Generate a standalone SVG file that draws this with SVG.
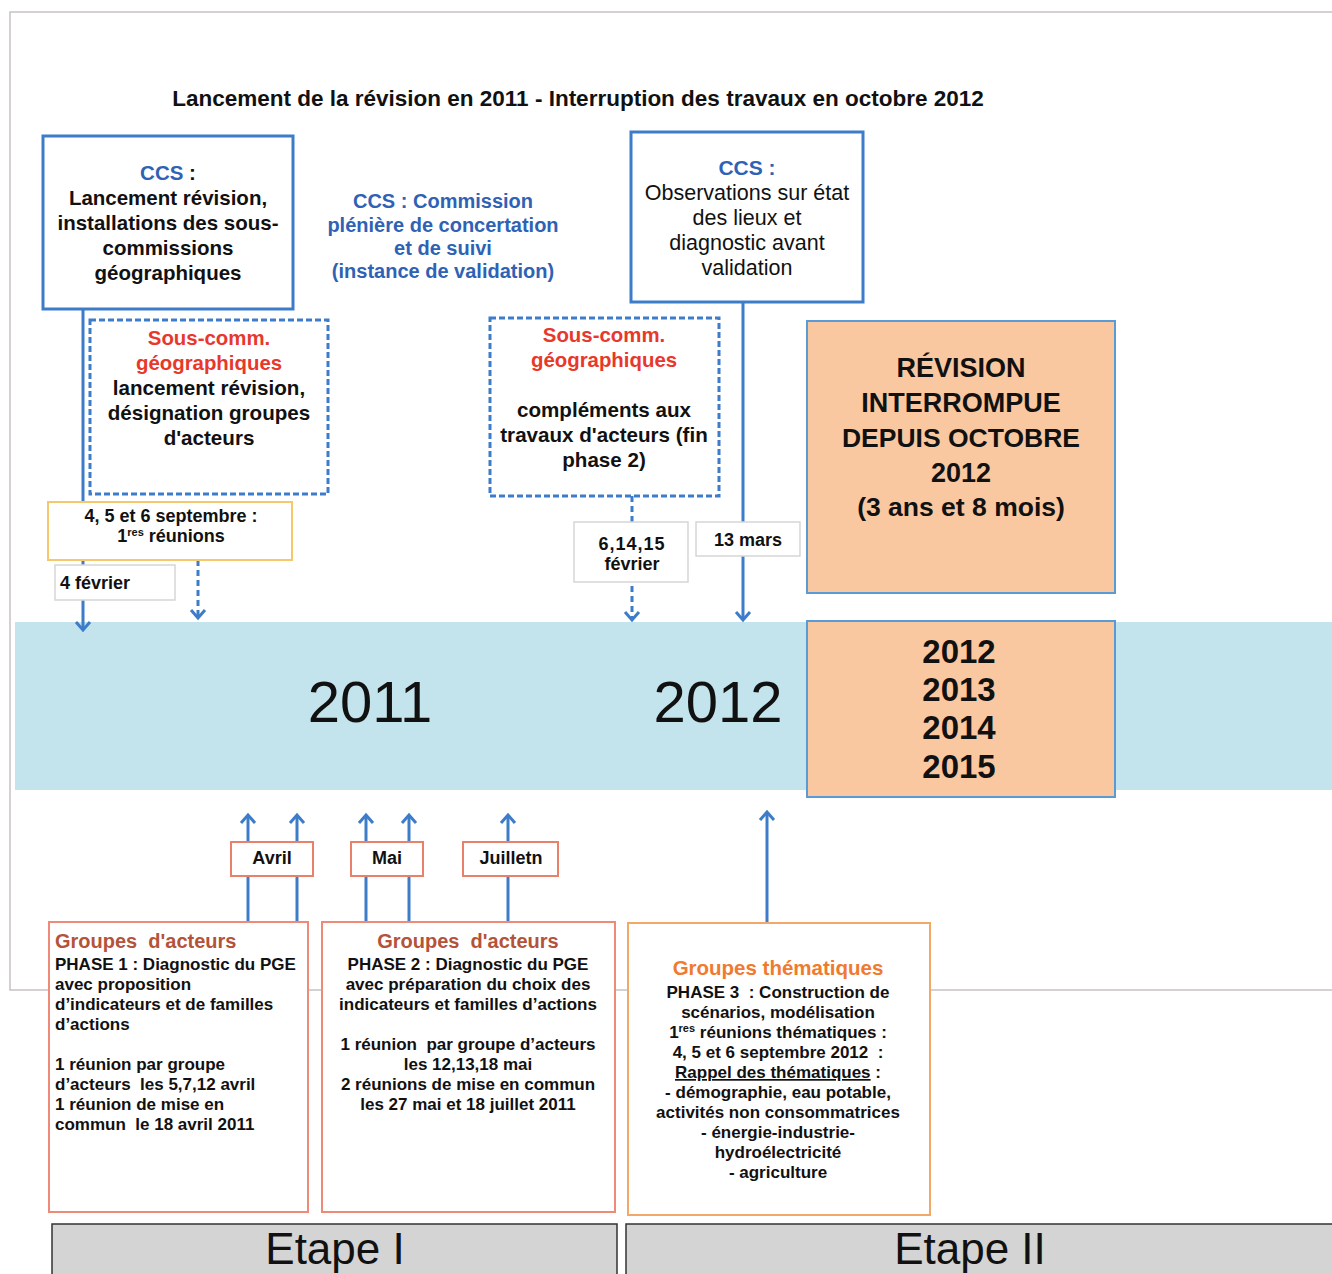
<svg xmlns="http://www.w3.org/2000/svg" width="1332" height="1274" viewBox="0 0 1332 1274">
<style>
  text { font-family: "Liberation Sans", Arial, sans-serif; fill: #111; white-space: pre; }
  .b { font-weight: bold; }
  .c { text-anchor: middle; }
  .blue { fill: #2f62b4; }
  .red { fill: #e8382c; }
  .brown { fill: #b4533a; }
  .orng { fill: #f07a2e; }
  .ccsbox { fill: #fff; stroke: #3d7cc9; stroke-width: 3; }
  .dash { fill: #fff; stroke: #3d7cc9; stroke-width: 3; stroke-dasharray: 6 3; }
  .datebox { fill: #fff; stroke: #d6d6d6; stroke-width: 1.5; }
  .month { fill: #fff; stroke: #e8806a; stroke-width: 2; }
  .grp { fill: #fff; stroke: #f08a78; stroke-width: 2; }
  .peach { fill: #f9c8a0; stroke: #5b9bd5; stroke-width: 2; }
  .line { fill: none; stroke: #3d7cc9; stroke-width: 3; }
  .dline { fill: none; stroke: #3d7cc9; stroke-width: 3; stroke-dasharray: 6 4; }
  .etape { fill: #d4d4d4; stroke: #333; stroke-width: 1.5; }
</style>
<defs>
  <marker id="chev" markerUnits="userSpaceOnUse" markerWidth="20" markerHeight="20" viewBox="-10 -10 20 20" refX="0" refY="0" orient="auto">
    <path d="M-8,-7 L0,0 L-8,7" fill="none" stroke="#3d7cc9" stroke-width="3"/>
  </marker>
</defs>
<rect width="1332" height="1274" fill="#fff"/>
<g id="frame" fill="none" stroke="#c8c2c2" stroke-width="1.5">
  <path d="M1332,12 L10,12 L10,990 L1332,990"/>
</g>
<text id="title" class="b c" x="578" y="106" font-size="22.5">Lancement de la révision en 2011 - Interruption des travaux en octobre 2012</text>

<g id="band">
  <rect x="15" y="622" width="1317" height="168" fill="#c3e4ec"/>
  <text class="c" x="370" y="722" font-size="58">2011</text>
  <text class="c" x="718" y="722" font-size="58">2012</text>
</g>

<g id="connectors">
  <path class="line" d="M83,309 L83,630" marker-end="url(#chev)"/>
  <path class="dline" d="M198,560 L198,618" marker-end="url(#chev)"/>
  <path class="dline" d="M632,496 L632,620" marker-end="url(#chev)"/>
  <path class="line" d="M743,302 L743,620" marker-end="url(#chev)"/>
  <path class="line" d="M248,922 L248,815" marker-end="url(#chev)"/>
  <path class="line" d="M297,922 L297,815" marker-end="url(#chev)"/>
  <path class="line" d="M366,922 L366,815" marker-end="url(#chev)"/>
  <path class="line" d="M409,922 L409,815" marker-end="url(#chev)"/>
  <path class="line" d="M508,922 L508,815" marker-end="url(#chev)"/>
  <path class="line" d="M767,923 L767,812" marker-end="url(#chev)"/>
</g>

<g id="ccs1">
  <rect class="ccsbox" x="43" y="136" width="250" height="173"/>
  <text class="b c" x="168" y="180" font-size="20.5"><tspan class="blue">CCS</tspan> :</text>
  <text class="b c" x="168" y="205" font-size="20.5">Lancement révision,</text>
  <text class="b c" x="168" y="230" font-size="20.5">installations des sous-</text>
  <text class="b c" x="168" y="255" font-size="20.5">commissions</text>
  <text class="b c" x="168" y="280" font-size="20.5">géographiques</text>
</g>

<g id="ccs-legend">
  <text class="b c blue" x="443" y="208" font-size="20">CCS : Commission</text>
  <text class="b c blue" x="443" y="232" font-size="20">plénière de concertation</text>
  <text class="b c blue" x="443" y="255" font-size="20">et de suivi</text>
  <text class="b c blue" x="443" y="278" font-size="20">(instance de validation)</text>
</g>

<g id="ccs2">
  <rect class="ccsbox" x="631" y="132" width="232" height="170"/>
  <text class="b c blue" x="747" y="175" font-size="21">CCS :</text>
  <text class="c" x="747" y="200" font-size="21.5">Observations sur état</text>
  <text class="c" x="747" y="225" font-size="21.5">des lieux et</text>
  <text class="c" x="747" y="250" font-size="21.5">diagnostic avant</text>
  <text class="c" x="747" y="275" font-size="21.5">validation</text>
</g>

<g id="souscomm1">
  <rect class="dash" x="90" y="320" width="238" height="174"/>
  <text class="b c red" x="209" y="345" font-size="20.4">Sous-comm.</text>
  <text class="b c red" x="209" y="370" font-size="20.4">géographiques</text>
  <text class="b c" x="209" y="395" font-size="20.6">lancement révision,</text>
  <text class="b c" x="209" y="420" font-size="20.6">désignation groupes</text>
  <text class="b c" x="209" y="445" font-size="20.6">d'acteurs</text>
</g>

<g id="souscomm2">
  <rect class="dash" x="490" y="318" width="229" height="178"/>
  <text class="b c red" x="604" y="342" font-size="20.4">Sous-comm.</text>
  <text class="b c red" x="604" y="367" font-size="20.4">géographiques</text>
  <text class="b c" x="604" y="417" font-size="20.6">compléments aux</text>
  <text class="b c" x="604" y="442" font-size="20.6">travaux d'acteurs (fin</text>
  <text class="b c" x="604" y="467" font-size="20.6">phase 2)</text>
</g>

<g id="septembre">
  <rect x="48" y="502" width="244" height="58" fill="#fff" stroke="#f5c96b" stroke-width="2"/>
  <text class="b c" x="171" y="522" font-size="18">4, 5 et 6 septembre :</text>
  <text class="b c" x="171" y="542" font-size="18">1<tspan font-size="11" dy="-6">res</tspan><tspan dy="6"> réunions</tspan></text>
</g>

<g id="fevrier4">
  <rect class="datebox" x="55" y="565" width="120" height="35"/>
  <text class="b" x="60" y="589" font-size="18">4 février</text>
</g>

<g id="fevrier6">
  <rect class="datebox" x="574" y="522" width="114" height="60"/>
  <text class="b c" x="632" y="550" font-size="18" letter-spacing="1">6,14,15</text>
  <text class="b c" x="632" y="570" font-size="18">février</text>
</g>

<g id="mars13">
  <rect class="datebox" x="696" y="522" width="104" height="34"/>
  <text class="b c" x="748" y="546" font-size="18">13 mars</text>
</g>

<g id="revision">
  <rect class="peach" x="807" y="321" width="308" height="272"/>
  <text class="b c" x="961" y="377" font-size="27">RÉVISION</text>
  <text class="b c" x="961" y="412" font-size="27">INTERROMPUE</text>
  <text class="b c" x="961" y="447" font-size="26.5">DEPUIS OCTOBRE</text>
  <text class="b c" x="961" y="482" font-size="27">2012</text>
  <text class="b c" x="961" y="516" font-size="26.5">(3 ans et 8 mois)</text>
</g>

<g id="years">
  <rect class="peach" x="807" y="621" width="308" height="176"/>
  <text class="b c" x="959" y="663" font-size="33">2012</text>
  <text class="b c" x="959" y="701" font-size="33">2013</text>
  <text class="b c" x="959" y="739" font-size="33">2014</text>
  <text class="b c" x="959" y="778" font-size="33">2015</text>
</g>

<g id="avril">
  <rect class="month" x="231" y="842" width="82" height="34"/>
  <text class="b c" x="272" y="864" font-size="18">Avril</text>
</g>
<g id="mai">
  <rect class="month" x="351" y="842" width="72" height="34"/>
  <text class="b c" x="387" y="864" font-size="18">Mai</text>
</g>
<g id="juillet">
  <rect class="month" x="463" y="842" width="95" height="34"/>
  <text class="b c" x="511" y="864" font-size="18">Juilletn</text>
</g>

<g id="phase1">
  <rect class="grp" x="49" y="922" width="259" height="290"/>
  <text class="b brown" x="55" y="948" font-size="20">Groupes  d'acteurs</text>
  <text class="b" x="55" y="970" font-size="17">PHASE 1 : Diagnostic du PGE</text>
  <text class="b" x="55" y="990" font-size="17">avec proposition</text>
  <text class="b" x="55" y="1010" font-size="17">d’indicateurs et de familles</text>
  <text class="b" x="55" y="1030" font-size="17">d’actions</text>
  <text class="b" x="55" y="1070" font-size="17">1 réunion par groupe</text>
  <text class="b" x="55" y="1090" font-size="17">d’acteurs  les 5,7,12 avril</text>
  <text class="b" x="55" y="1110" font-size="17">1 réunion de mise en</text>
  <text class="b" x="55" y="1130" font-size="17">commun  le 18 avril 2011</text>
</g>

<g id="phase2">
  <rect class="grp" x="322" y="922" width="293" height="290"/>
  <text class="b c brown" x="468" y="948" font-size="20">Groupes  d'acteurs</text>
  <text class="b c" x="468" y="970" font-size="17">PHASE 2 : Diagnostic du PGE</text>
  <text class="b c" x="468" y="990" font-size="17">avec préparation du choix des</text>
  <text class="b c" x="468" y="1010" font-size="17">indicateurs et familles d’actions</text>
  <text class="b c" x="468" y="1050" font-size="17">1 réunion  par groupe d’acteurs</text>
  <text class="b c" x="468" y="1070" font-size="17">les 12,13,18 mai</text>
  <text class="b c" x="468" y="1090" font-size="17">2 réunions de mise en commun</text>
  <text class="b c" x="468" y="1110" font-size="17">les 27 mai et 18 juillet 2011</text>
</g>

<g id="phase3">
  <rect x="628" y="923" width="302" height="292" fill="#fff" stroke="#f2a868" stroke-width="2"/>
  <text class="b c orng" x="778" y="975" font-size="20.5">Groupes thématiques</text>
  <text class="b c" x="778" y="998" font-size="17">PHASE 3  : Construction de</text>
  <text class="b c" x="778" y="1018" font-size="17">scénarios, modélisation</text>
  <text class="b c" x="778" y="1038" font-size="17">1<tspan font-size="11" dy="-6">res</tspan><tspan dy="6"> réunions thématiques :</tspan></text>
  <text class="b c" x="778" y="1058" font-size="17">4, 5 et 6 septembre 2012  :</text>
  <text class="b c" x="778" y="1078" font-size="17"><tspan text-decoration="underline">Rappel des thématiques</tspan> :</text>
  <text class="b c" x="778" y="1098" font-size="17">- démographie, eau potable,</text>
  <text class="b c" x="778" y="1118" font-size="17">activités non consommatrices</text>
  <text class="b c" x="778" y="1138" font-size="17">- énergie-industrie-</text>
  <text class="b c" x="778" y="1158" font-size="17">hydroélectricité</text>
  <text class="b c" x="778" y="1178" font-size="17">- agriculture</text>
</g>

<g id="etape1">
  <rect class="etape" x="52" y="1224" width="565" height="52"/>
  <text class="c" x="335" y="1264" font-size="44">Etape I</text>
</g>
<g id="etape2">
  <rect class="etape" x="626" y="1224" width="708" height="52"/>
  <text class="c" x="970" y="1264" font-size="44">Etape II</text>
</g>
</svg>
